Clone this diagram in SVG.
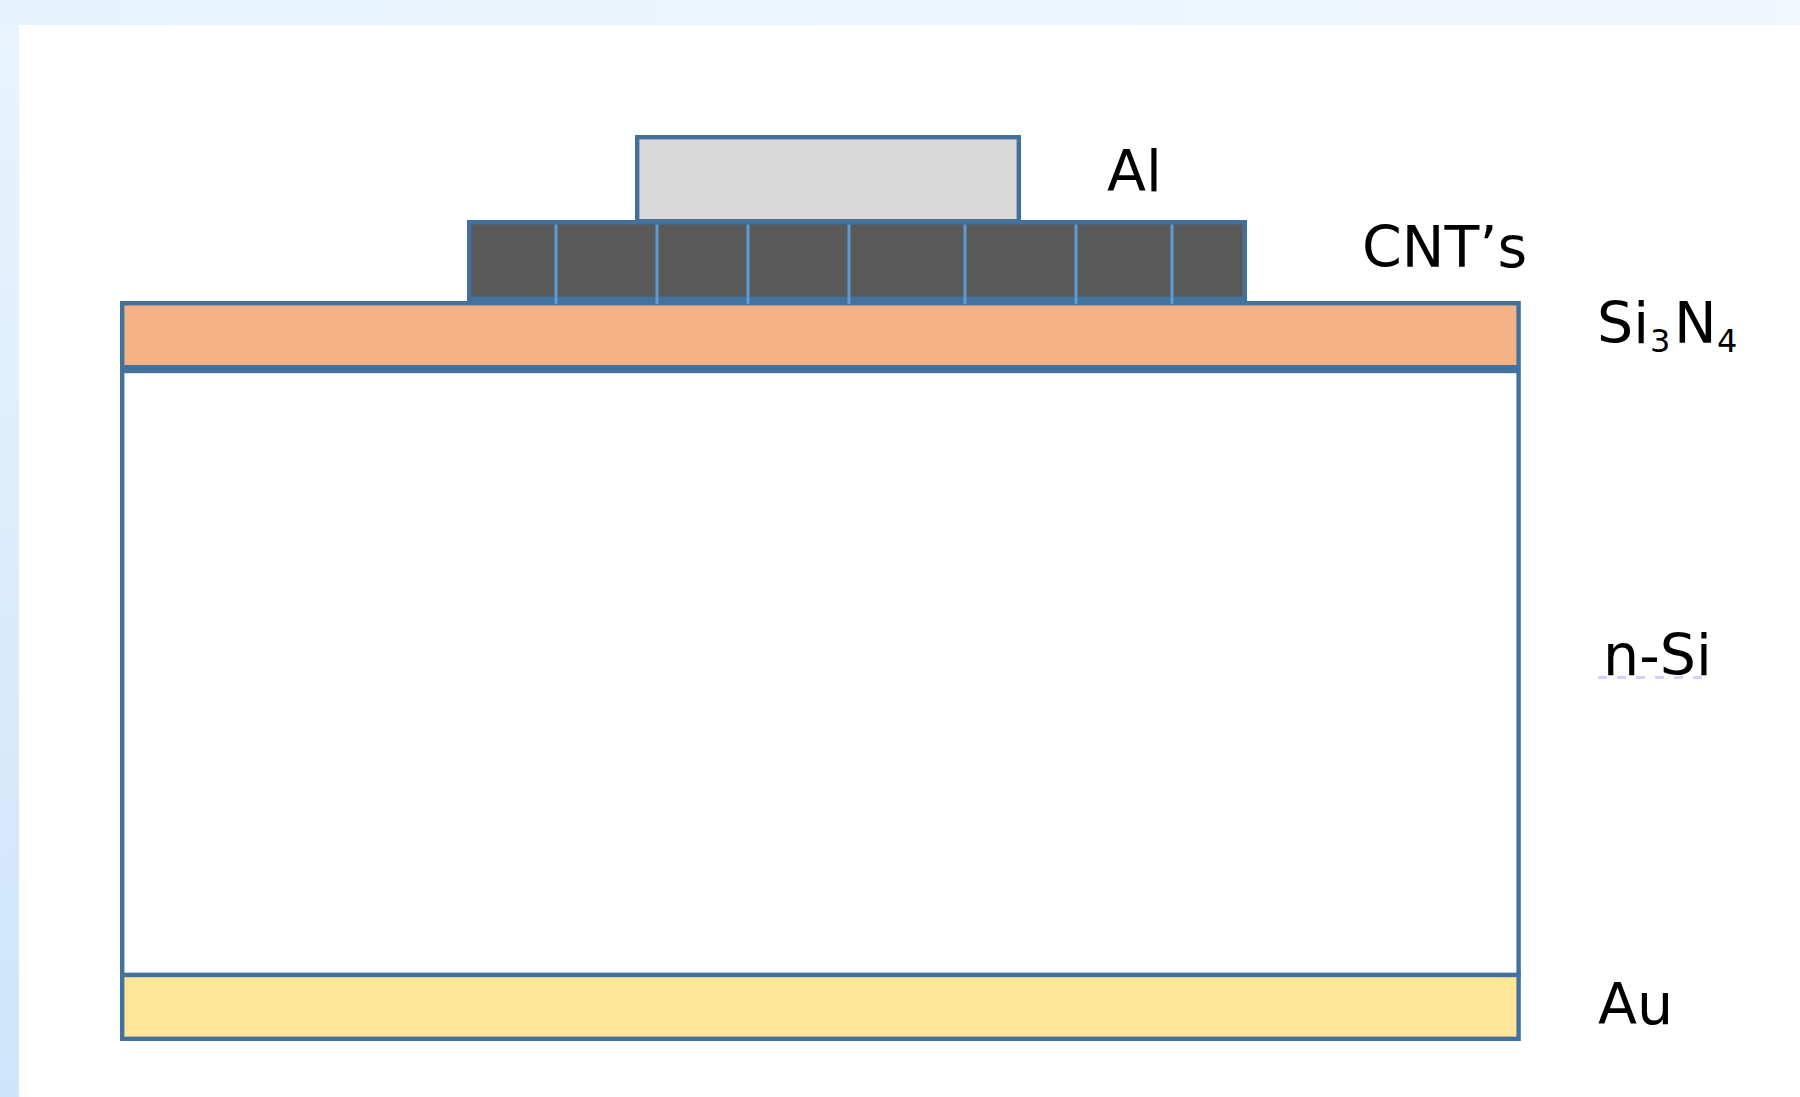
<svg xmlns="http://www.w3.org/2000/svg" width="1800" height="1097" viewBox="0 0 1800 1097">
  <defs>
    <linearGradient id="pageBg" x1="0" y1="0" x2="0.35" y2="1">
      <stop offset="0" stop-color="#e9f4fd"/>
      <stop offset="1" stop-color="#cae4fa"/>
    </linearGradient>
    <linearGradient id="topBand" x1="0" y1="0" x2="1" y2="0">
      <stop offset="0" stop-color="#e6f3fd"/>
      <stop offset="1" stop-color="#f1f7fe"/>
    </linearGradient>
  </defs>
  <style>
    .layer { stroke: #41719c; stroke-width: 4.4; }
    .cell { stroke: #5b9bd5; stroke-width: 3; }
    .lbl { font-family: "DejaVu Sans", "Liberation Sans", sans-serif; font-size: 57px; fill: #000; }
    .sub { font-size: 32px; }
  </style>

  <!-- page background and white slide area -->
  <rect x="0" y="0" width="1800" height="1097" fill="url(#pageBg)"/>
  <rect x="0" y="0" width="1800" height="25" fill="url(#topBand)"/>
  <rect x="19" y="25" width="1781" height="1072" fill="#ffffff"/>

  <!-- layer stack -->
  <g id="al-contact">
    <rect class="layer" x="637.2" y="137.2" width="381.6" height="84" fill="#d9d9d9"/>
  </g>

  <g id="cnt-layer">
    <rect class="layer" x="469.2" y="222.2" width="775.6" height="76.6" fill="#595959"/>
  </g>

  <g id="si3n4-layer">
    <rect class="layer" x="122.2" y="303.2" width="1396.4" height="64" fill="#f4b183"/>
  </g>

  <g id="nsi-substrate">
    <rect class="layer" x="122.2" y="371" width="1396.4" height="604" fill="#ffffff"/>
  </g>

  <g id="au-contact">
    <rect class="layer" x="122.2" y="975" width="1396.4" height="63.8" fill="#ffe699"/>
  </g>

  <!-- nanotube cell dividers -->
  <g id="connectors">
    <line class="cell" x1="556" y1="224.5" x2="556" y2="304"/>
    <line class="cell" x1="657" y1="224.5" x2="657" y2="304"/>
    <line class="cell" x1="748" y1="224.5" x2="748" y2="304"/>
    <line class="cell" x1="849" y1="224.5" x2="849" y2="304"/>
    <line class="cell" x1="965" y1="224.5" x2="965" y2="304"/>
    <line class="cell" x1="1076" y1="224.5" x2="1076" y2="304"/>
    <line class="cell" x1="1172" y1="224.5" x2="1172" y2="304"/>
  </g>

  <!-- layer labels -->
  <g id="labels">
    <text class="lbl" x="1107" y="191">Al</text>
    <text class="lbl" x="1362" y="267">CNT’s</text>
    <text class="lbl" y="343"><tspan x="1597">Si</tspan><tspan class="sub" x="1650" y="352">3</tspan><tspan x="1674" y="343">N</tspan><tspan class="sub" x="1717" y="352">4</tspan></text>
    <text class="lbl" x="1603" y="675">n-Si</text>
    <line x1="1598" y1="677.5" x2="1710" y2="677.5" stroke="#d2d2fa" stroke-width="3" stroke-dasharray="9 10"/>
    <text class="lbl" x="1598" y="1024">Au</text>
  </g>
</svg>
